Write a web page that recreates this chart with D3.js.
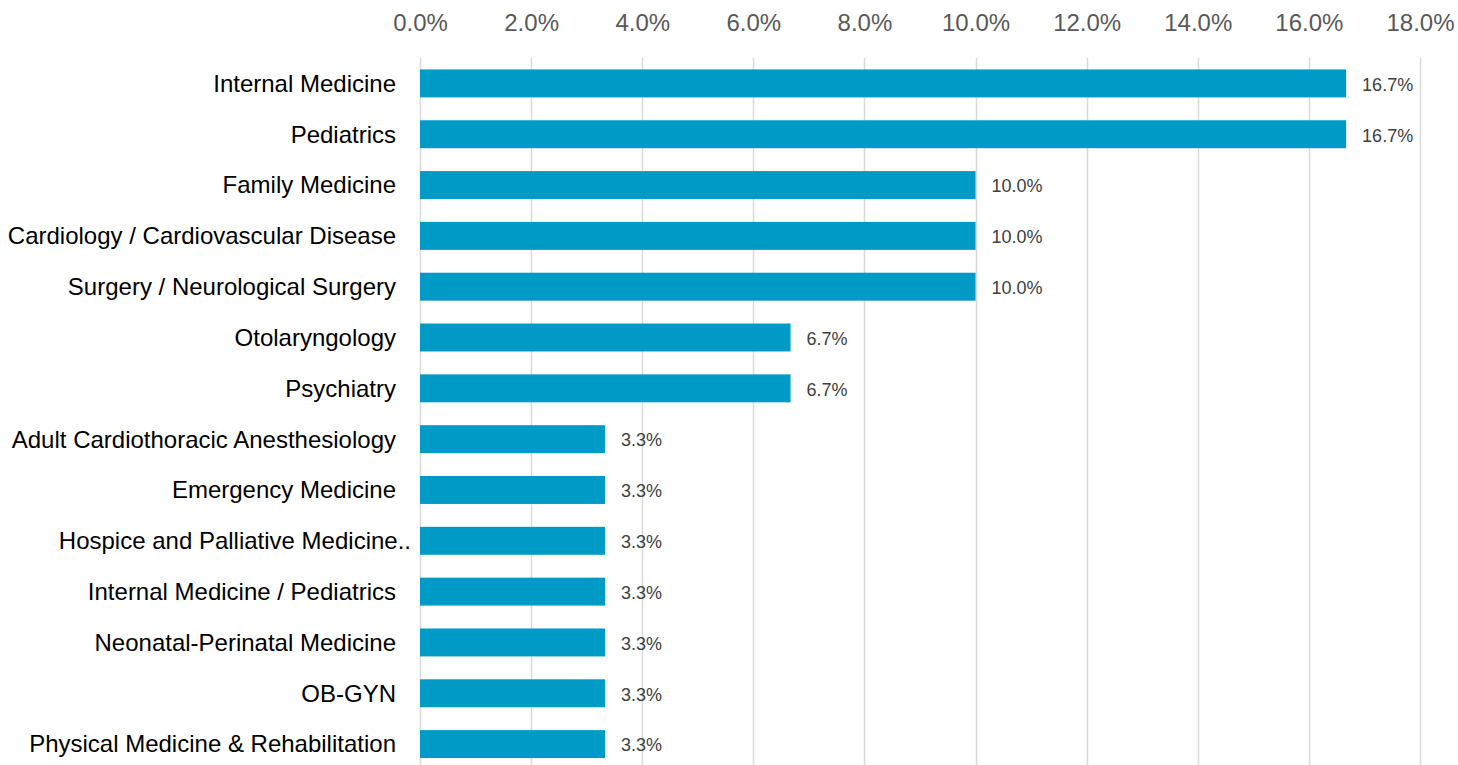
<!DOCTYPE html>
<html>
<head>
<meta charset="utf-8">
<script src="https://cdn.jsdelivr.net/npm/d3@7"></script>
<style>
  html, body { margin: 0; padding: 0; background: #fff; }
  svg { display: block; font-family: "Liberation Sans", Arial, sans-serif; }
</style>
</head>
<body>
<div id="chart"></div>
<script>
const width = 1458;
const height = 765;

const specialties = [
    'Internal Medicine',
    'Pediatrics',
    'Family Medicine',
    'Cardiology / Cardiovascular Disease',
    'Surgery / Neurological Surgery',
    'Otolaryngology',
    'Psychiatry',
    'Adult Cardiothoracic Anesthesiology',
    'Emergency Medicine',
    'Hospice and Palliative Medicine..',
    'Internal Medicine / Pediatrics',
    'Neonatal-Perinatal Medicine',
    'OB-GYN',
    'Physical Medicine & Rehabilitation',
];
const shares = [16.67, 16.67, 10.0, 10.0, 10.0, 6.67, 6.67, 3.33, 3.33, 3.33, 3.33, 3.33, 3.33, 3.33];
const xTicks = [0, 2, 4, 6, 8, 10, 12, 14, 16, 18];

const data = specialties.map((name, i) => ({name, value: shares[i]}));

const svg = d3.select('#chart').append('svg')
    .attr('width', width)
    .attr('height', height);

const x = d3.scaleLinear().domain([0, 18]).range([420, 1420]);
const y = d3.scaleBand().domain(specialties).range([58, 769.5]).paddingInner(0.45).paddingOuter(0.225);

// gridlines
svg.append('g')
    .selectAll('line')
    .data(xTicks)
    .join('line')
    .attr('x1', d => Math.round(x(d)) + 0.5)
    .attr('x2', d => Math.round(x(d)) + 0.5)
    .attr('y1', 58)
    .attr('y2', height)
    .attr('stroke', '#d9d9d9')
    .attr('stroke-width', 1.5);

// top axis labels
const xAxis = d3.axisTop(x)
    .tickValues(xTicks)
    .tickFormat(d => d.toFixed(1) + '%')
    .tickSize(0)
    .tickPadding(0);

const gx = svg.append('g')
    .attr('transform', 'translate(0,31)')
    .call(xAxis);
gx.select('.domain').remove();
gx.selectAll('text')
    .attr('font-size', '24px')
    .attr('font-family', '"Liberation Sans", Arial, sans-serif')
    .attr('fill', '#595959')
    .attr('dy', '0');

// bars
svg.append('g')
    .selectAll('rect')
    .data(data)
    .join('rect')
    .attr('x', x(0))
    .attr('y', d => y(d.name))
    .attr('width', d => x(d.value) - x(0))
    .attr('height', y.bandwidth())
    .attr('fill', '#009ac7');

// category labels
const yAxis = d3.axisLeft(y).tickSize(0).tickPadding(24);
const gy = svg.append('g')
    .attr('transform', `translate(${x(0)},0)`)
    .call(yAxis);
gy.select('.domain').remove();
gy.selectAll('text')
    .attr('font-size', '24px')
    .attr('font-family', '"Liberation Sans", Arial, sans-serif')
    .attr('fill', '#000')
    .attr('dy', '0.35em');
// the truncated label sits a little further right
gy.selectAll('text')
    .filter(d => d.endsWith('..'))
    .attr('x', -9);

// value labels
svg.append('g')
    .selectAll('text')
    .data(data)
    .join('text')
    .attr('x', d => x(d.value) + 16)
    .attr('y', d => y(d.name) + y.bandwidth() / 2 + 1)
    .attr('dy', '0.35em')
    .attr('font-size', '18px')
    .attr('font-family', '"Liberation Sans", Arial, sans-serif')
    .attr('fill', '#404040')
    .text(d => d.value.toFixed(1) + '%');
</script>
</body>
</html>
